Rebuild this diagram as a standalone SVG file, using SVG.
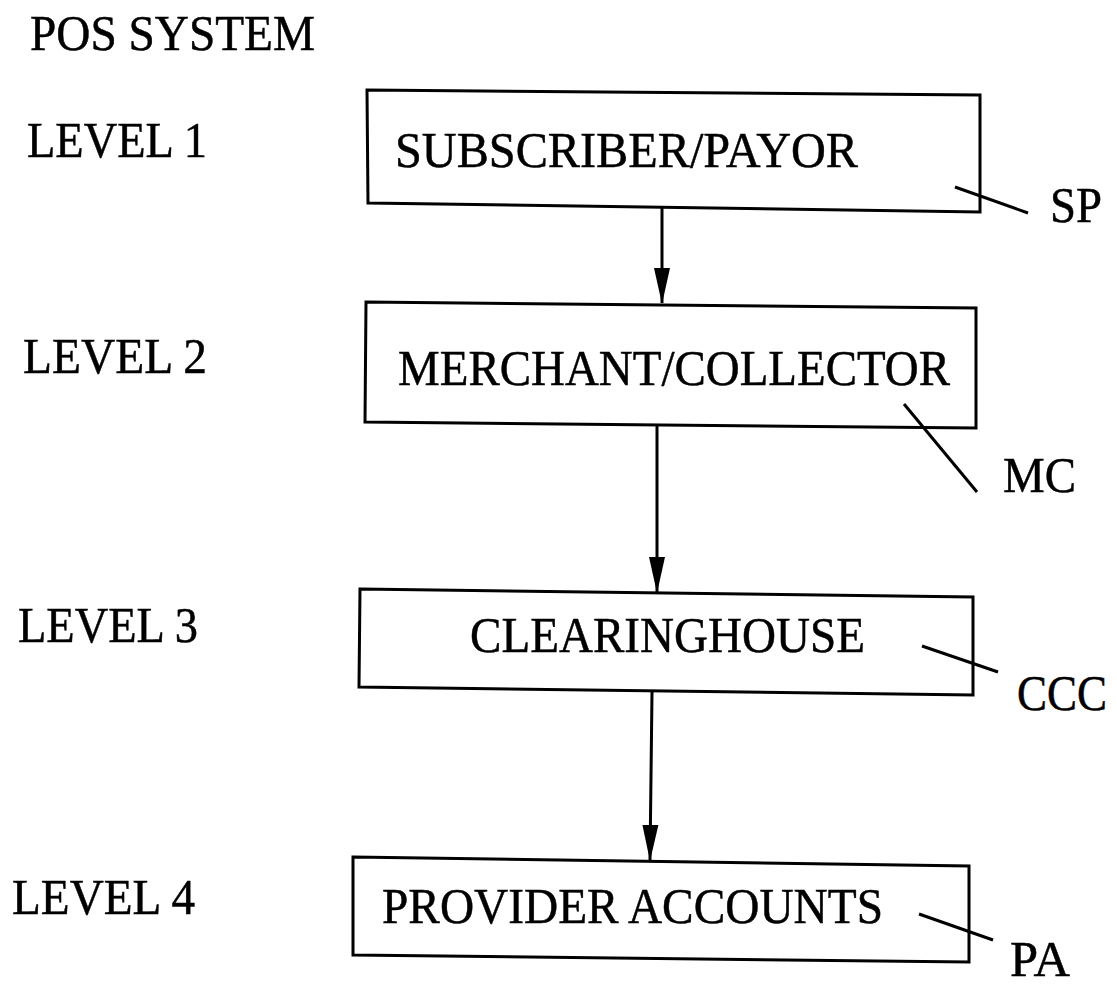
<svg xmlns="http://www.w3.org/2000/svg" width="1117" height="988" viewBox="0 0 1117 988">
  <style>
    .t { font-family: "Liberation Serif", "Times New Roman", serif; font-size: 51px; fill: #000; stroke: #000; stroke-width: 0.5; }
    .box { fill: #fff; stroke: #000; stroke-width: 3; stroke-linejoin: miter; }
    .conn { stroke: #000; stroke-width: 3; fill: none; }
    .lead { stroke: #000; stroke-width: 3; fill: none; }
  </style>
  <defs>
    <marker id="arrd" markerUnits="userSpaceOnUse" markerWidth="36" markerHeight="18" viewBox="0 0 36 18" refX="35" refY="9" orient="auto">
      <path d="M0,1 L36,9 L0,17 Z" fill="#000"/>
    </marker>
  </defs>
  <rect width="1117" height="988" fill="#fff"/>

  <g id="labels">
    <text class="t" x="30" y="50" textLength="285" lengthAdjust="spacingAndGlyphs">POS SYSTEM</text>
    <text class="t" x="27" y="157" textLength="180" lengthAdjust="spacingAndGlyphs">LEVEL 1</text>
    <text class="t" x="23" y="373" textLength="184" lengthAdjust="spacingAndGlyphs">LEVEL 2</text>
    <text class="t" x="18" y="642" textLength="180" lengthAdjust="spacingAndGlyphs">LEVEL 3</text>
    <text class="t" x="12" y="914" textLength="183" lengthAdjust="spacingAndGlyphs">LEVEL 4</text>
  </g>

  <g id="connectors">
    <line class="conn" x1="662" y1="207" x2="662" y2="303" marker-end="url(#arrd)"/>
    <line class="conn" x1="657" y1="425" x2="657" y2="592" marker-end="url(#arrd)"/>
    <line class="conn" x1="652" y1="692" x2="650" y2="860" marker-end="url(#arrd)"/>
  </g>

  <g id="node-sp">
    <polygon class="box" points="367,90 980,95 980,212 368,203"/>
    <text class="t" x="395" y="167" textLength="463" lengthAdjust="spacingAndGlyphs">SUBSCRIBER/PAYOR</text>
    <line class="lead" x1="955" y1="187" x2="1028" y2="213"/>
    <text class="t" x="1050" y="222" textLength="52" lengthAdjust="spacingAndGlyphs">SP</text>
  </g>

  <g id="node-mc">
    <polygon class="box" points="366,302 976,308 976,428 365,422"/>
    <text class="t" x="398" y="385" textLength="552" lengthAdjust="spacingAndGlyphs">MERCHANT/COLLECTOR</text>
    <line class="lead" x1="904" y1="404" x2="977" y2="492"/>
    <text class="t" x="1003" y="492" textLength="73" lengthAdjust="spacingAndGlyphs">MC</text>
  </g>

  <g id="node-ccc">
    <polygon class="box" points="360,589 973,597 973,695 359,687"/>
    <text class="t" x="470" y="652" textLength="395" lengthAdjust="spacingAndGlyphs">CLEARINGHOUSE</text>
    <line class="lead" x1="922" y1="646" x2="998" y2="672"/>
    <text class="t" x="1017" y="710" textLength="90" lengthAdjust="spacingAndGlyphs">CCC</text>
  </g>

  <g id="node-pa">
    <polygon class="box" points="353,857 969,866 969,962 353,955"/>
    <text class="t" x="382" y="923" textLength="501" lengthAdjust="spacingAndGlyphs">PROVIDER ACCOUNTS</text>
    <line class="lead" x1="919" y1="914" x2="993" y2="940"/>
    <text class="t" x="1010" y="976" textLength="60" lengthAdjust="spacingAndGlyphs">PA</text>
  </g>
</svg>
